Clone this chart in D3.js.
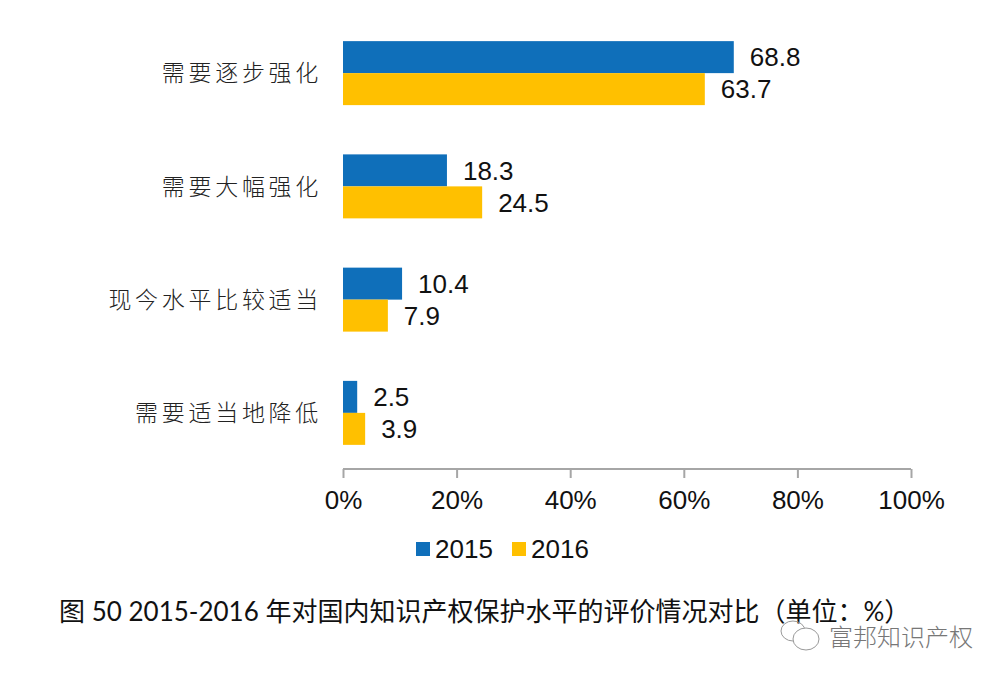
<!DOCTYPE html>
<html>
<head>
<meta charset="utf-8">
<script src="https://cdn.jsdelivr.net/npm/d3@7"></script>
<style>
  html, body { margin: 0; padding: 0; background: #fff; }
</style>
</head>
<body>
<div id="chart"></div>
<script>
const categories = ["需要逐步强化", "需要大幅强化", "现今水平比较适当", "需要适当地降低"];
const seriesNames = ["2015", "2016"];
const values2015 = [68.8, 18.3, 10.4, 2.5];
const values2016 = [63.7, 24.5, 7.9, 3.9];
const xTicks = [0, 20, 40, 60, 80, 100];
const seriesColors = ["#0f6fba", "#ffc000"];
const title = "图 50 2015-2016 年对国内知识产权保护水平的评价情况对比（单位：%）";
const watermark = "富邦知识产权";

const width = 1008, height = 679;
const cjk = "'Noto Sans CJK SC', sans-serif";
const latin = "'Liberation Sans', Arial, sans-serif";

var svg = d3
  .select("#chart")
  .append("svg")
  .attr("width", width)
  .attr("height", height)
  .style("display", "block");

var x = d3.scaleLinear().domain([0, 100]).range([343, 911]);
var y = d3
  .scaleBand()
  .domain(categories)
  .range([16.5, 469.5])
  .paddingInner(0.435)
  .paddingOuter(0.2175);
var ySeries = d3
  .scaleBand()
  .domain(seriesNames)
  .range([0, y.bandwidth()]);

// bars and value labels
[values2015, values2016].forEach((values, s) => {
  var g = svg.append("g");
  g.selectAll("rect")
    .data(values)
    .enter()
    .append("rect")
    .attr("x", x(0))
    .attr("y", (d, i) => y(categories[i]) + ySeries(seriesNames[s]))
    .attr("width", (d) => x(d) - x(0))
    .attr("height", ySeries.bandwidth())
    .attr("fill", seriesColors[s]);
  g.selectAll("text")
    .data(values)
    .enter()
    .append("text")
    .attr("x", (d) => x(d) + 16)
    .attr("y", (d, i) => y(categories[i]) + ySeries(seriesNames[s]) + ySeries.bandwidth() / 2)
    .attr("dy", "0.36em")
    .attr("font-family", latin)
    .attr("font-size", 26)
    .attr("fill", "#111")
    .text((d) => d.toFixed(1));
});

// category labels
svg
  .append("g")
  .selectAll("text")
  .data(categories)
  .enter()
  .append("text")
  .attr("x", 322)
  .attr("y", (d) => y(d) + y.bandwidth() / 2)
  .attr("dy", "0.36em")
  .attr("text-anchor", "end")
  .attr("font-family", cjk)
  .attr("font-weight", 300)
  .attr("font-size", 23)
  .attr("letter-spacing", 3.7)
  .attr("fill", "#222")
  .text((d) => d);

// x axis
var axis = svg
  .append("g")
  .attr("transform", "translate(0,469)")
  .call(
    d3
      .axisBottom(x)
      .tickValues(xTicks)
      .tickSize(9)
      .tickPadding(13)
      .tickFormat((d) => d + "%")
  );
axis.selectAll(".domain").attr("d", `M${x(0)},0H${x(100)}`).attr("stroke", "#a6a6a6").attr("stroke-width", 2);
axis.selectAll(".tick line").attr("stroke", "#a6a6a6").attr("stroke-width", 2);
axis
  .selectAll(".tick text")
  .attr("font-family", latin)
  .attr("font-size", 26)
  .attr("fill", "#111");

// legend
var legend = svg
  .append("g")
  .selectAll("g")
  .data(seriesNames)
  .enter()
  .append("g")
  .attr("transform", (d, i) => `translate(${416 + i * 96},542)`);
legend
  .append("rect")
  .attr("width", 14)
  .attr("height", 14)
  .attr("fill", (d, i) => seriesColors[i]);
legend
  .append("text")
  .attr("x", 19)
  .attr("y", 7)
  .attr("dy", "0.36em")
  .attr("font-family", latin)
  .attr("font-size", 26)
  .attr("fill", "#111")
  .text((d) => d);

// caption
svg
  .append("text")
  .attr("x", 59)
  .attr("y", 621)
  .attr("font-family", "Lato, " + cjk)
  .attr("font-size", 26)
  .attr("fill", "#111")
  .text(title);

// watermark
var mark = svg.append("g").attr("fill", "none").attr("stroke", "#999").attr("stroke-width", 1);
mark.append("ellipse").attr("cx", 793).attr("cy", 631).attr("rx", 12).attr("ry", 10);
mark.append("ellipse").attr("cx", 806).attr("cy", 639).attr("rx", 13).attr("ry", 11).attr("fill", "#fff");
svg
  .append("text")
  .attr("x", 829)
  .attr("y", 646)
  .attr("font-family", cjk)
  .attr("font-weight", 300)
  .attr("font-size", 24)
  .attr("fill", "#777")
  .text(watermark);
</script>
</body>
</html>
